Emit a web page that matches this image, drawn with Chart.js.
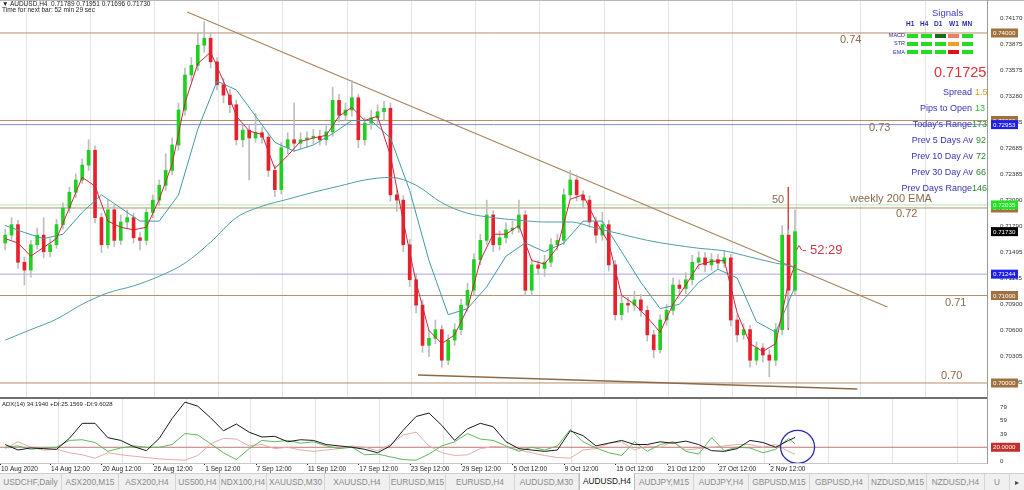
<!DOCTYPE html>
<html>
<head>
<meta charset="utf-8">
<script src="https://cdn.jsdelivr.net/npm/chart.js@4.4.1/dist/chart.umd.min.js"></script>
<style>
html,body{margin:0;padding:0;background:#fff;}
body{width:1024px;height:490px;overflow:hidden;position:relative;font-family:"Liberation Sans",Arial,sans-serif;}
canvas{position:absolute;left:0;}
#pc{top:0;}
#ac{top:396px;}
.t{position:absolute;white-space:nowrap;line-height:1;}
.ln{position:absolute;}
.cell{position:absolute;width:11px;height:4px;}
.lbl{position:absolute;white-space:nowrap;line-height:1;font-size:9px;color:#3535b5;}
#tabs{position:absolute;left:0;top:473px;width:1024px;height:17px;background:#f0f0f0;border-top:1px solid #cfcfcf;}
.tab{position:absolute;top:0;height:17px;line-height:16px;text-align:center;font-size:8.3px;color:#8a8a8a;border-right:1px solid #d4d4d4;box-sizing:border-box;white-space:nowrap;overflow:hidden;}
.tab.on{background:#fff;color:#111;top:-1px;height:18px;border-left:1px solid #bdbdbd;border-right:1px solid #bdbdbd;}
</style>
</head>
<body>
<canvas id="pc" width="1024" height="397"></canvas>
<canvas id="ac" width="1024" height="78"></canvas>

<div class="ln" style="left:0;top:0;width:1024px;height:1px;background:#b8b8b8"></div>
<div class="ln" style="left:0;top:397px;width:987px;height:2px;background:#707070"></div>
<div class="ln" style="left:0;top:463px;width:987px;height:1px;background:#c8c8c8"></div>
<div class="ln" style="left:987px;top:0;width:1px;height:464px;background:#9a9a9a"></div>

<div class="t" style="left:2px;top:1px;font-size:6.5px;color:#222">&#9660; AUDUSD,H4&nbsp; 0.71789 0.71951 0.71696 0.71730</div>
<div class="t" style="left:2px;top:7px;font-size:6.5px;color:#222">Time for next bar: 52 min 29 sec</div>

<div class="t" style="left:932px;top:8px;font-size:9.5px;color:#3c3cb8">Signals</div>
<div class="t" style="left:906px;top:21px;font-size:6.5px;color:#2a2aa0;font-weight:bold">H1</div>
<div class="t" style="left:920px;top:21px;font-size:6.5px;color:#2a2aa0;font-weight:bold">H4</div>
<div class="t" style="left:934px;top:21px;font-size:6.5px;color:#2a2aa0;font-weight:bold">D1</div>
<div class="t" style="left:949px;top:21px;font-size:6.5px;color:#2a2aa0;font-weight:bold">W1</div>
<div class="t" style="left:962px;top:21px;font-size:6.5px;color:#2a2aa0;font-weight:bold">MN</div>
<div class="t" style="left:886px;top:33px;font-size:5.5px;color:#2a2aa0;width:19px;text-align:right">MACD</div>
<div class="t" style="left:886px;top:41px;font-size:5.5px;color:#2a2aa0;width:19px;text-align:right">STR</div>
<div class="t" style="left:886px;top:50px;font-size:5.5px;color:#2a2aa0;width:19px;text-align:right">EMA</div>
<div id="cells"></div>

<div class="t" style="left:934px;top:65px;font-size:14.5px;color:#e0303c">0.71725</div>
<div class="lbl" style="right:52px;top:88px">Spread</div><div class="lbl" style="left:975px;top:88px;color:#e0a020">1.5</div>
<div class="lbl" style="right:52px;top:104px">Pips to Open</div><div class="lbl" style="left:975px;top:104px;color:#33c433">13</div>
<div class="lbl" style="right:52px;top:120px">Today's Range</div><div class="lbl" style="left:972px;top:120px;color:#2a8a2a">173</div>
<div class="lbl" style="right:51px;top:136px">Prev 5 Days Av</div><div class="lbl" style="left:976px;top:136px;color:#2a8a2a">92</div>
<div class="lbl" style="right:51px;top:152px">Prev 10 Day Av</div><div class="lbl" style="left:976px;top:152px;color:#2a8a2a">72</div>
<div class="lbl" style="right:51px;top:168px">Prev 30 Day Av</div><div class="lbl" style="left:976px;top:168px;color:#2a8a2a">66</div>
<div class="lbl" style="right:52px;top:184px">Prev Days Range</div><div class="lbl" style="left:972px;top:184px;color:#2a8a2a">146</div>

<div class="t" style="left:796px;top:243px;font-size:13px;color:#d03848">^- 52:29</div>
<div class="t" style="left:2px;top:401px;font-size:6px;color:#222">ADX(14) 34.1940 +DI:25.1569 -DI:9.6028</div>

<div id="tabs"></div>

<script>
// ---------- DATA ----------
const firstOpen = 0.7160;
const closes = [
0.7169,0.7181,0.7138,0.7129,0.7158,0.7169,0.7150,0.7158,0.7181,0.7200,
0.7218,0.7232,0.7249,0.7266,0.7189,0.7158,0.7198,0.7163,0.7184,0.7189,
0.7166,0.7163,0.7195,0.7209,0.7226,0.7243,0.7272,0.7312,0.7352,0.7363,
0.7386,0.7394,0.7367,0.7341,0.7329,0.7318,0.7278,0.7289,0.7280,0.7286,
0.7281,0.7243,0.7221,0.7269,0.7278,0.7274,0.7278,0.7280,0.7282,0.7278,
0.7287,0.7323,0.7306,0.7312,0.7326,0.7278,0.7297,0.7303,0.7310,0.7314,
0.7215,0.7209,0.7158,0.7118,0.7089,0.7043,0.7051,0.7061,0.7026,0.7049,
0.7061,0.7089,0.7106,0.7141,0.7163,0.7192,0.7158,0.7166,0.7175,0.7177,
0.7192,0.7106,0.7135,0.7131,0.7138,0.7158,0.7163,0.7215,0.7232,0.7215,
0.7209,0.7184,0.7169,0.7181,0.7135,0.7078,0.7091,0.7089,0.7095,0.7083,
0.7055,0.7038,0.7072,0.7083,0.7112,0.7108,0.7118,0.7138,0.7143,0.7135,
0.7141,0.7137,0.7143,0.7072,0.7055,0.7061,0.7026,0.7040,0.7032,0.7026,
0.7061,0.7169,0.7106,0.7173];
const highs = [
0.7176,0.7189,0.7186,0.7144,0.7163,0.7177,0.7189,0.7165,0.7187,0.7206,
0.7224,0.7239,0.7256,0.7278,0.7271,0.7194,0.7209,0.7203,0.7192,0.7198,
0.7194,0.7172,0.7200,0.7215,0.7232,0.7262,0.7280,0.7320,0.7360,0.7372,
0.7400,0.7413,0.7400,0.7372,0.7348,0.7336,0.7323,0.7296,0.7295,0.7308,
0.7292,0.7286,0.7249,0.7275,0.7286,0.7320,0.7286,0.7287,0.7290,0.7289,
0.7294,0.7338,0.7330,0.7320,0.7346,0.7330,0.7303,0.7312,0.7318,0.7322,
0.7320,0.7222,0.7214,0.7164,0.7125,0.7095,0.7060,0.7072,0.7066,0.7055,
0.7068,0.7096,0.7114,0.7148,0.7170,0.7209,0.7197,0.7174,0.7183,0.7185,
0.7209,0.7197,0.7142,0.7140,0.7146,0.7165,0.7170,0.7222,0.7243,0.7238,
0.7220,0.7214,0.7190,0.7195,0.7186,0.7140,0.7100,0.7098,0.7105,0.7101,
0.7088,0.7060,0.7078,0.7090,0.7120,0.7118,0.7126,0.7146,0.7150,0.7149,
0.7148,0.7147,0.7151,0.7147,0.7078,0.7068,0.7066,0.7047,0.7045,0.7038,
0.7068,0.7180,0.7175,0.7198];
const lows = [
0.7152,0.7164,0.7131,0.7112,0.7121,0.7153,0.7143,0.7144,0.7154,0.7176,
0.7195,0.7212,0.7228,0.7243,0.7183,0.7149,0.7154,0.7156,0.7158,0.7177,
0.7160,0.7152,0.7158,0.7189,0.7203,0.7220,0.7238,0.7266,0.7306,0.7345,
0.7357,0.7378,0.7360,0.7335,0.7320,0.7309,0.7272,0.7270,0.7232,0.7275,
0.7274,0.7236,0.7213,0.7216,0.7262,0.7265,0.7268,0.7270,0.7273,0.7272,
0.7272,0.7282,0.7298,0.7300,0.7305,0.7269,0.7272,0.7290,0.7296,0.7300,
0.7208,0.7196,0.7150,0.7110,0.7080,0.7035,0.7030,0.7045,0.7018,0.7021,
0.7043,0.7055,0.7082,0.7100,0.7135,0.7158,0.7150,0.7152,0.7160,0.7170,
0.7172,0.7100,0.7100,0.7124,0.7122,0.7133,0.7152,0.7158,0.7210,0.7208,
0.7200,0.7178,0.7160,0.7163,0.7128,0.7072,0.7072,0.7081,0.7083,0.7076,
0.7048,0.7029,0.7034,0.7066,0.7078,0.7100,0.7102,0.7112,0.7130,0.7127,
0.7129,0.7130,0.7132,0.7065,0.7047,0.7050,0.7018,0.7021,0.7024,0.7007,
0.7020,0.7055,0.7063,0.7100];
// fast MA (every 2nd bar + last)
const fastMA = [
0.7165,0.7160,0.7145,0.7155,0.7165,0.7200,0.7235,0.7225,0.7185,0.7178,
0.7175,0.7178,0.7210,0.7250,0.7320,0.7365,0.7378,0.7345,0.7305,0.7288,
0.7284,0.7245,0.7260,0.7276,0.7280,0.7283,0.7305,0.7315,0.7300,0.7305,
0.7260,0.7185,0.7115,0.7060,0.7045,0.7055,0.7085,0.7140,0.7170,0.7170,
0.7180,0.7140,0.7136,0.7155,0.7210,0.7215,0.7185,0.7160,0.7100,0.7090,
0.7075,0.7058,0.7090,0.7112,0.7135,0.7139,0.7140,0.7080,0.7045,0.7036,
0.7045,0.7115,0.7135];
// medium MA (every 3rd bar)
const midMA = [
0.7180,0.7172,0.7165,0.7170,0.7195,0.7215,0.7200,0.7185,0.7185,0.7215,
0.7290,0.7345,0.7335,0.7305,0.7275,0.7265,0.7272,0.7285,0.7300,0.7300,
0.7280,0.7220,0.7140,0.7078,0.7085,0.7110,0.7145,0.7160,0.7150,0.7160,
0.7185,0.7185,0.7150,0.7115,0.7085,0.7090,0.7115,0.7130,0.7120,0.7070,
0.7058,0.7110];
// slow EMA (every 4th bar + last)
const ema200 = [
0.7049,0.7061,0.7073,0.7090,0.7103,0.7111,0.7122,0.7137,0.7161,0.7189,
0.7202,0.7210,0.7218,0.7225,0.7232,0.7235,0.7226,0.7206,0.7194,0.7189,
0.7186,0.7184,0.7184,0.7177,0.7170,0.7163,0.7158,0.7154,0.7151,0.7144,
0.7137,0.7133];
// ADX(14) panel (every 2nd bar + last)
const adx = [
24,16,19,18,17,33,55,55,34,30,21,15,33,62,86,80,63,44,54,42,
35,36,28,31,30,24,22,20,17,12,22,45,65,70,52,30,47,55,50,28,
18,16,14,16,44,37,22,26,30,24,24,28,26,29,24,15,14,18,30,27,
20,30,34.19];
const plusDI = [
20,22,17,19,20,30,31,27,14,19,22,20,20,24,40,38,25,12,2,18,
30,28,30,26,28,22,18,20,9,10,6,2,1,10,22,28,40,32,30,22,
14,20,16,22,46,28,19,12,8,28,14,24,28,14,10,34,15,20,19,12,
17,33,25.16];
const minusDI = [
18,28,20,16,17,12,9,4,12,9,7,5,3,2,1,8,25,33,32,22,
24,18,20,16,14,16,18,22,20,15,24,38,42,22,12,8,9,18,21,20,
16,12,8,5,4,16,18,26,28,16,22,20,28,16,18,20,22,24,24,20,
24,14,9.60];
const priceTicks = [0.74170,0.73875,0.73575,0.73280,0.72985,0.72685,0.72385,0.72090,0.71790,0.71495,0.71195,0.70900,0.70600,0.70305,0.70005];
const adxTicks = [0,39,59,79];
const dateLabels = ['10 Aug 2020','14 Aug 12:00','20 Aug 12:00','26 Aug 12:00','1 Sep 12:00','7 Sep 12:00','11 Sep 12:00','17 Sep 12:00','23 Sep 12:00','29 Sep 12:00','5 Oct 12:00','9 Oct 12:00','15 Oct 12:00','21 Oct 12:00','27 Oct 12:00','2 Nov 12:00'];
const levels = [0.74, 0.73, 0.72, 0.71, 0.70];
const tabNames = ['USDCHF,Daily','ASX200,M15','ASX200,H4','US500,H4','NDX100,H4','XAUUSD,M30','XAUUSD,H4','EURUSD,M15','EURUSD,H4','AUDUSD,M30','AUDUSD,H4','AUDJPY,M15','AUDJPY,H4','GBPUSD,M15','GBPUSD,H4','NZDUSD,M15','NZDUSD,H4','U'];

// ---------- LAYOUT ----------
const xMin = -0.8, xMax = 152.9;
const lastBar = closes.length - 1;
const FONT = '"Liberation Sans", Arial, sans-serif';

const opens = closes.map((c, i) => i === 0 ? firstOpen : closes[i - 1]);
const wicks = closes.map((c, i) => ({x: i, y: [lows[i], highs[i]]}));
const upBodies = [], dnBodies = [];
closes.forEach((c, i) => { (c >= opens[i] ? upBodies : dnBodies).push({x: i, y: [opens[i], c]}); });
const sampled = (arr, step) => arr.map((v, k) => ({x: Math.min(k * step, lastBar), y: v}));

function hline(v, color, w, order) {
  return {type: 'line', data: [{x: xMin, y: v}, {x: xMax, y: v}], borderColor: color, borderWidth: w, pointRadius: 0, order};
}
function seg(pts, color, w, order) {
  return {type: 'line', data: pts, borderColor: color, borderWidth: w, pointRadius: 0, order};
}
const gridTicks = [];
for (let v = 8.26; v < xMax; v += 10) gridTicks.push({value: v});

const labelPos = [xMin];
for (let k = 1; k < dateLabels.length; k++) labelPos.push(7 + 8 * (k - 1));

const notes = [
  {t: '0.74', x: 840, v: 0.74, dy: 7},
  {t: '0.73', x: 869, v: 0.73, dy: 7},
  {t: 'weekly 200 EMA', x: 850, v: 0.72035, dy: -6},
  {t: '0.72', x: 896, v: 0.72, dy: 6},
  {t: '0.71', x: 945, v: 0.71, dy: 7},
  {t: '0.70', x: 941, v: 0.70, dy: -7},
  {t: '50', x: 772, v: 0.72035, dy: -5}
];
const boxes = [
  {v: 0.74000, bg: '#a0703e', fg: '#fff'},
  {v: 0.73000, bg: '#a0703e', fg: '#fff'},
  {v: 0.72953, bg: '#1f1fe6', fg: '#fff'},
  {v: 0.72000, bg: '#a0703e', fg: '#fff'},
  {v: 0.72035, bg: '#22e022', fg: '#fff'},
  {v: 0.71730, bg: '#000000', fg: '#fff'},
  {v: 0.71244, bg: '#1f1fe6', fg: '#fff'},
  {v: 0.71000, bg: '#a0703e', fg: '#fff'},
  {v: 0.70000, bg: '#a0703e', fg: '#fff'}
];

const pricePlugin = {
  id: 'priceNotes',
  afterDraw(chart) {
    const ctx = chart.ctx, ys = chart.scales.y;
    ctx.save();
    ctx.textBaseline = 'middle'; ctx.textAlign = 'left';
    ctx.font = '11px ' + FONT; ctx.fillStyle = '#8a6a4c';
    notes.forEach(n => ctx.fillText(n.t, n.x, ys.getPixelForValue(n.v) + n.dy));
    ctx.font = '6.2px ' + FONT;
    boxes.forEach(b => {
      const y = ys.getPixelForValue(b.v);
      ctx.fillStyle = b.bg; ctx.fillRect(991, y - 4.5, 27, 9);
      ctx.fillStyle = b.fg; ctx.fillText(b.v.toFixed(5), 993, y + 0.5);
    });
    ctx.restore();
  }
};

new Chart(document.getElementById('pc'), {
  type: 'bar',
  data: {
    datasets: [
      seg(sampled(fastMA, 2), '#c8283c', 1, 1),
      seg(sampled(midMA, 3), '#3f9aa6', 1, 2),
      {...seg(sampled(ema200, 4), '#4f9ea6', 1, 3), cubicInterpolationMode: 'monotone'},
      {type: 'bar', data: upBodies, backgroundColor: '#1fd01f', barThickness: 3, grouped: false, minBarLength: 1, order: 4},
      {type: 'bar', data: dnBodies, backgroundColor: '#e8202c', barThickness: 3, grouped: false, minBarLength: 1, order: 4},
      {type: 'bar', data: wicks, backgroundColor: '#bdbdbd', barThickness: 1, grouped: false, order: 5},
      seg([{x: 121.96, y: 0.7224}, {x: 121.96, y: 0.7061}], '#d04848', 1, 6),
      seg([{x: 28.35, y: 0.74240}, {x: 137.4, y: 0.70869}], '#a8845e', 1.2, 7),
      seg([{x: 64.3, y: 0.70091}, {x: 132.7, y: 0.69931}], '#8c6a48', 1.5, 7),
      hline(0.72953, '#8c8cdc', 1, 8),
      hline(0.71244, '#a4a4e4', 1, 8),
      hline(0.72035, '#b4e6b4', 1, 8),
      ...levels.map(v => hline(v, '#b48e6c', 1, 9))
    ]
  },
  options: {
    responsive: false, animation: false, events: [],
    layout: {padding: 0},
    plugins: {legend: {display: false}, tooltip: {enabled: false}},
    scales: {
      x: {type: 'linear', min: xMin, max: xMax, offset: false, display: false},
      x2: {type: 'linear', position: 'top', min: xMin, max: xMax, offset: false,
        ticks: {display: false}, border: {display: false},
        grid: {color: '#e4e4e4', drawTicks: false},
        afterBuildTicks: s => { s.ticks = gridTicks.slice(); },
        afterFit: s => { s.height = 0; s.paddingLeft = 0; s.paddingRight = 0; }},
      y: {position: 'right', min: 0.6984, max: 0.743771,
        grid: {display: false}, border: {display: false},
        ticks: {font: {size: 6.2, family: FONT}, color: '#333', padding: 5, callback: v => v.toFixed(5)},
        afterBuildTicks: s => { s.ticks = priceTicks.map(v => ({value: v})); },
        afterFit: s => { s.width = 37; s.paddingTop = 0; s.paddingBottom = 0; }}
    }
  },
  plugins: [pricePlugin]
});

const adxPlugin = {
  id: 'adxNotes',
  afterDraw(chart) {
    const ctx = chart.ctx, ys = chart.scales.y, xs = chart.scales.x;
    const area = chart.chartArea;
    ctx.save();
    // date axis labels, placed through the x scale
    ctx.fillStyle = '#222'; ctx.font = '6.5px ' + FONT;
    ctx.textBaseline = 'top'; ctx.textAlign = 'left';
    labelPos.forEach((v, k) => {
      const px = xs.getPixelForValue(v);
      ctx.fillText(dateLabels[k], Math.max(1, px + 1), area.bottom + 3);
      ctx.fillRect(Math.round(px), area.bottom, 1, 2);
    });
    const y = ys.getPixelForValue(20);
    ctx.fillStyle = '#c0302c'; ctx.fillRect(991, y - 4.5, 29, 9);
    ctx.fillStyle = '#fff'; ctx.font = '6.2px ' + FONT; ctx.textBaseline = 'middle';
    ctx.fillText('20.0000', 993, y + 0.5);
    ctx.strokeStyle = '#2a2aa8'; ctx.lineWidth = 1.3;
    ctx.beginPath();
    ctx.ellipse(xs.getPixelForValue(123.4), ys.getPixelForValue(20.5), 17, 16.5, 0, 0, Math.PI * 2);
    ctx.stroke();
    ctx.restore();
  }
};

new Chart(document.getElementById('ac'), {
  type: 'line',
  data: {
    datasets: [
      seg(sampled(adx, 2), '#1a1a1a', 1, 1),
      seg(sampled(plusDI, 2), '#5cb85c', 1, 2),
      seg(sampled(minusDI, 2), '#e8a8a8', 1, 3),
      hline(20, '#c07474', 1, 4)
    ]
  },
  options: {
    responsive: false, animation: false, events: [],
    layout: {padding: {top: 2, left: 0, right: 0, bottom: 11}},
    plugins: {legend: {display: false}, tooltip: {enabled: false}},
    scales: {
      x: {type: 'linear', min: xMin, max: xMax, offset: false, display: false},
      x2: {type: 'linear', position: 'top', min: xMin, max: xMax, offset: false,
        ticks: {display: false}, border: {display: false},
        grid: {color: '#e4e4e4', drawTicks: false},
        afterBuildTicks: s => { s.ticks = gridTicks.slice(); },
        afterFit: s => { s.height = 0; s.paddingLeft = 0; s.paddingRight = 0; }},
      y: {position: 'right', min: -3, max: 92,
        grid: {display: false}, border: {display: false},
        ticks: {font: {size: 6.2, family: FONT}, color: '#333', padding: 5},
        afterBuildTicks: s => { s.ticks = adxTicks.map(v => ({value: v})); },
        afterFit: s => { s.width = 37; s.paddingTop = 0; s.paddingBottom = 0; }}
    }
  },
  plugins: [adxPlugin]
});

// ---------- signal cells ----------
const cellColors = [
  ['#22dd22','#22dd22','#1d6a1d','#f08060','#22dd22'],
  ['#22dd22','#22dd22','#22dd22','#f0a020','#22dd22'],
  ['#22dd22','#22dd22','#22dd22','#e01414','#22dd22']
];
const cellX = [907, 921, 935, 948, 962], cellY = [34, 42, 50];
let html = '';
cellColors.forEach((row, r) => row.forEach((c, k) => {
  html += `<div class="cell" style="left:${cellX[k]}px;top:${cellY[r]}px;background:${c}"></div>`;
}));
document.getElementById('cells').innerHTML = html;

// ---------- tabs ----------
const tabEdges = [0,62,119,176,220,267,325,390,446,515,579,635,694,749,810,869,927,985,1010];
let th = '';
tabNames.forEach((n, k) => {
  const l = tabEdges[k], w = tabEdges[k + 1] - l;
  th += `<div class="tab${n === 'AUDUSD,H4' ? ' on' : ''}" style="left:${l}px;width:${w}px">${n}</div>`;
});
th += `<div class="tab" style="left:1010px;width:14px;border:none;color:#444">&#9656;</div>`;
document.getElementById('tabs').innerHTML = th;
</script>
</body>
</html>
